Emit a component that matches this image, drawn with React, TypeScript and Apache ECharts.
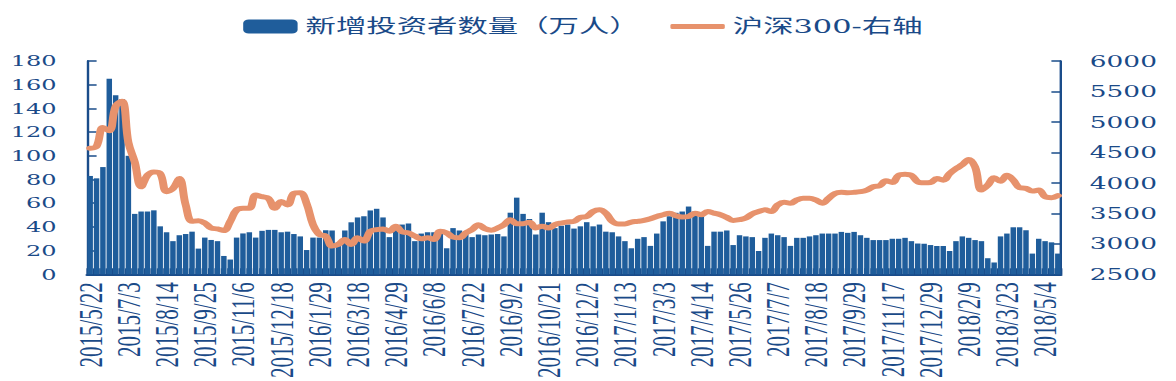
import React, { useEffect, useRef } from 'react';
import * as echarts from 'echarts';

// Weekly dates (categories)
const categories: string[] = [
  '2015/5/22','2015/5/29','2015/6/5','2015/6/12','2015/6/19','2015/6/26',
  '2015/7/3','2015/7/10','2015/7/17','2015/7/24','2015/7/31','2015/8/7',
  '2015/8/14','2015/8/21','2015/8/28','2015/9/4','2015/9/11','2015/9/18',
  '2015/9/25','2015/10/2','2015/10/9','2015/10/16','2015/10/23','2015/10/30',
  '2015/11/6','2015/11/13','2015/11/20','2015/11/27','2015/12/4','2015/12/11',
  '2015/12/18','2015/12/25','2016/1/1','2016/1/8','2016/1/15','2016/1/22',
  '2016/1/29','2016/2/5','2016/2/19','2016/2/26','2016/3/4','2016/3/11',
  '2016/3/18','2016/3/25','2016/4/1','2016/4/8','2016/4/15','2016/4/22',
  '2016/4/29','2016/5/6','2016/5/13','2016/5/20','2016/5/27','2016/6/3',
  '2016/6/8','2016/6/17','2016/6/24','2016/7/1','2016/7/8','2016/7/15',
  '2016/7/22','2016/7/29','2016/8/5','2016/8/12','2016/8/19','2016/8/26',
  '2016/9/2','2016/9/9','2016/9/14','2016/9/23','2016/9/30','2016/10/14',
  '2016/10/21','2016/10/28','2016/11/4','2016/11/11','2016/11/18','2016/11/25',
  '2016/12/2','2016/12/9','2016/12/16','2016/12/23','2016/12/30','2017/1/6',
  '2017/1/13','2017/1/20','2017/1/26','2017/2/10','2017/2/17','2017/2/24',
  '2017/3/3','2017/3/10','2017/3/17','2017/3/24','2017/3/31','2017/4/7',
  '2017/4/14','2017/4/21','2017/4/28','2017/5/5','2017/5/12','2017/5/19',
  '2017/5/26','2017/6/2','2017/6/9','2017/6/16','2017/6/23','2017/6/30',
  '2017/7/7','2017/7/14','2017/7/21','2017/7/28','2017/8/4','2017/8/11',
  '2017/8/18','2017/8/25','2017/9/1','2017/9/8','2017/9/15','2017/9/22',
  '2017/9/29','2017/10/13','2017/10/20','2017/10/27','2017/11/3','2017/11/10',
  '2017/11/17','2017/11/24','2017/12/1','2017/12/8','2017/12/15','2017/12/22',
  '2017/12/29','2018/1/5','2018/1/12','2018/1/19','2018/1/26','2018/2/2',
  '2018/2/9','2018/2/14','2018/2/23','2018/3/2','2018/3/9','2018/3/16',
  '2018/3/23','2018/3/30','2018/4/4','2018/4/13','2018/4/20','2018/4/27',
  '2018/5/4','2018/5/11','2018/5/18',
];

// 新增投资者数量（万人）
const newInvestors: number[] = [
  83, 81, 90.5, 165, 151, 148, 100, 51, 53, 53,
  54, 40.5, 35.5, 28, 33, 34, 36, 21.7, 31, 29,
  28, 15.5, 12.5, 31, 34.5, 35.5, 31, 36.7, 37.5, 37.5,
  35.5, 36, 34, 32, 20.5, 31, 31, 37.2, 37, 27,
  37, 43.9, 48, 49, 53.9, 55.3, 48, 31.4, 41, 42,
  42.8, 28, 34.4, 35.5, 35.5, 34.4, 22, 39, 37, 36,
  31.4, 33.6, 33, 33.6, 34, 32, 52, 64.7, 51, 46.7,
  33.6, 52, 44, 39, 41, 42, 38.6, 40.5, 44, 40.5,
  42, 36, 35.5, 32, 28, 22, 30, 31.4, 24, 34.4,
  44.7, 49, 51.9, 53, 57.2, 53, 49, 24, 36, 36,
  37, 24.7, 33, 32, 31.4, 19.7, 30.8, 34.4, 33, 31.4,
  24, 30.8, 30.8, 32, 33, 34.4, 34.4, 34.4, 35.8, 35,
  35.8, 33, 30.8, 28.9, 28.9, 28.9, 30, 30, 30.8, 28,
  26, 25.8, 24.7, 23.9, 23.9, 19.7, 28, 32, 30.8, 28.9,
  28, 13.6, 10, 32, 34.4, 39.7, 39.7, 37.2, 17.5, 30,
  28, 27, 17.5,
];

// 沪深300（右轴）
const csi300: number[] = [
  4569, 4601, 4909, 4854, 5259, 5340, 4666, 4342, 3937, 4125,
  4180, 4152, 3856, 3909, 4071, 3639, 3369, 3380, 3342, 3261,
  3245, 3218, 3369, 3558, 3585, 3585, 3801, 3774, 3747, 3585,
  3693, 3639, 3828, 3840, 3660, 3315, 3153, 3127, 2965, 2991,
  3072, 2991, 3099, 3045, 3207, 3234, 3245, 3207, 3288, 3197,
  3180, 3127, 3083, 3099, 3072, 3207, 3180, 3110, 3099, 3180,
  3234, 3315, 3250, 3224, 3261, 3315, 3396, 3331, 3331, 3354,
  3261, 3288, 3261, 3315, 3342, 3358, 3369, 3434, 3450, 3531,
  3558, 3504, 3369, 3326, 3326, 3358, 3369, 3385, 3412, 3450,
  3477, 3504, 3461, 3440, 3450, 3504, 3477, 3531, 3504, 3477,
  3434, 3385, 3396, 3423, 3493, 3531, 3558, 3531, 3639, 3683,
  3666, 3720, 3747, 3747, 3720, 3666, 3747, 3828, 3845, 3840,
  3845, 3856, 3882, 3937, 3953, 4034, 4007, 4125, 4141, 4125,
  4018, 4002, 4007, 4071, 4044, 4152, 4233, 4298, 4384, 4261,
  3882, 3963, 4083, 4028, 4125, 4044, 3921, 3910, 3866, 3882,
  3774, 3758, 3791,
];

const BAR_NAME = '新增投资者数量（万人）';
const LINE_NAME = '沪深300-右轴';

const BAR_COLOR = '#1f5d9b';
const LINE_COLOR = '#e7926c';
const AXIS_COLOR = '#1a4c8a';
const TEXT_COLOR = '#1a4a88';

// the chart is drawn narrower and stretched horizontally, like the reference
const SCALE_X = 1.6;
const FULL_W = 1176;
const H = 381;
const W = FULL_W / SCALE_X;

export default function App() {
  const ref = useRef<HTMLDivElement>(null);

  useEffect(() => {
    if (!ref.current) return;
    const chart = echarts.init(ref.current, null, { renderer: 'svg' });
    const legendText = {
      fontSize: 19,
      color: TEXT_COLOR,
      fontFamily: "'DejaVu Serif', 'Noto Sans CJK SC', serif",
    };
    chart.setOption({
      animation: false,
      backgroundColor: '#ffffff',
      grid: { left: 87 / SCALE_X, right: W - 1061 / SCALE_X, top: 61, bottom: H - 277 },
      legend: [
        {
          data: [{ name: BAR_NAME, icon: 'roundRect' }],
          left: 147,
          top: 12,
          itemWidth: 34,
          itemHeight: 14,
          itemGap: 5,
          textStyle: legendText,
        },
        {
          data: [{ name: LINE_NAME, icon: 'roundRect' }],
          left: 414,
          top: 12,
          itemWidth: 34,
          itemHeight: 5,
          textStyle: legendText,
        },
      ],
      xAxis: {
        type: 'category',
        data: categories,
        boundaryGap: true,
        axisLine: { show: true, lineStyle: { color: AXIS_COLOR, width: 2 } },
        axisTick: { show: true, inside: true, length: 6, interval: 0, lineStyle: { color: AXIS_COLOR, width: 1 } },
        axisLabel: {
          interval: 5,
          rotate: 90,
          margin: 8,
          fontSize: 21,
          color: TEXT_COLOR,
          fontFamily: "'Liberation Serif', serif",
        },
        splitLine: { show: false },
      },
      yAxis: [
        {
          type: 'value',
          position: 'left',
          min: 0,
          max: 180,
          interval: 20,
          axisLine: { show: true, lineStyle: { color: AXIS_COLOR, width: 1.5 } },
          axisTick: { show: true, inside: true, length: 6, lineStyle: { color: AXIS_COLOR, width: 1.5 } },
          axisLabel: {
            fontSize: 15,
            margin: 19,
            color: TEXT_COLOR,
            fontFamily: "'DejaVu Serif', serif",
            formatter: (v: number) => String(v),
          },
          splitLine: { show: false },
        },
        {
          type: 'value',
          position: 'right',
          min: 2500,
          max: 6000,
          interval: 500,
          axisLine: { show: true, lineStyle: { color: AXIS_COLOR, width: 1.5 } },
          axisTick: { show: true, inside: true, length: 6, lineStyle: { color: AXIS_COLOR, width: 1.5 } },
          axisLabel: {
            fontSize: 16.5,
            margin: 18,
            color: TEXT_COLOR,
            fontFamily: "'DejaVu Serif', serif",
            formatter: (v: number) => String(v),
          },
          splitLine: { show: false },
        },
      ],
      series: [
        {
          name: BAR_NAME,
          type: 'bar',
          yAxisIndex: 0,
          data: newInvestors,
          barCategoryGap: '14%',
          itemStyle: { color: BAR_COLOR },
          z: 2,
        },
        {
          name: LINE_NAME,
          type: 'line',
          yAxisIndex: 1,
          data: csi300,
          smooth: 0.4,
          symbol: 'none',
          showSymbol: false,
          itemStyle: { color: LINE_COLOR },
          lineStyle: { color: LINE_COLOR, width: 5, cap: 'round', join: 'round' },
          z: 3,
        },
      ],
    });
    return () => chart.dispose();
  }, []);

  return (
    <div
      ref={ref}
      style={{
        position: 'absolute',
        left: 0,
        top: 0,
        width: W,
        height: H,
        transform: `scaleX(${SCALE_X})`,
        transformOrigin: '0 0',
      }}
    />
  );
}
